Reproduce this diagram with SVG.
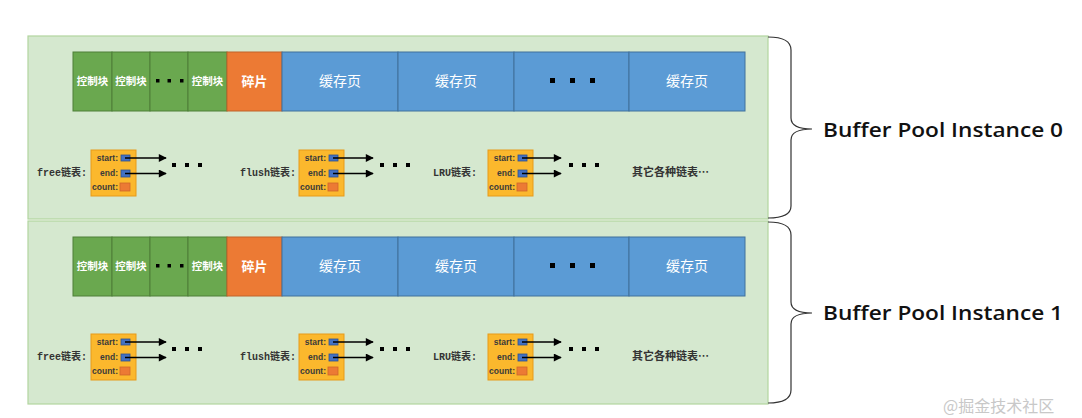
<svg xmlns="http://www.w3.org/2000/svg" width="1082" height="418" viewBox="0 0 1082 418">
<defs>
<style>
.panel{fill:#d5e8cf;stroke:#b2d59f;stroke-width:1.2}
.g{fill:#6aa84f;stroke:#4e7f38;stroke-width:1}
.o{fill:#ec7a34;stroke:#c0622a;stroke-width:1}
.b{fill:#5b9bd5;stroke:#41719c;stroke-width:1}
.dot{fill:#000}
.ct{font-family:"Noto Sans CJK SC",sans-serif;font-weight:bold;font-size:10.5px;fill:#fff;text-anchor:middle}
.ft{font-family:"Noto Sans CJK SC",sans-serif;font-weight:bold;font-size:13px;fill:#fff;text-anchor:middle}
.bt{font-family:"Noto Sans CJK SC",sans-serif;font-size:14px;fill:#fff;text-anchor:middle}
.yb{fill:#fbb82d;stroke:#e79a1a;stroke-width:1}
.sb{fill:#4472c4;stroke:#2f528f;stroke-width:0.8}
.cb{fill:#ec7a34;stroke:#d0672a;stroke-width:0.8}
.st{font-family:"Liberation Sans",sans-serif;font-weight:bold;font-size:8.5px;fill:#3a3a3a;text-anchor:end}
.lt{font-family:"Liberation Mono","Noto Sans CJK SC",monospace;font-weight:bold;font-size:10px;fill:#333}
.ot{font-family:"Noto Sans CJK SC",sans-serif;font-weight:bold;font-size:11px;fill:#333}
.ar{stroke:#000;stroke-width:1.6;fill:none;marker-end:url(#ah)}
.br{stroke:#333;stroke-width:1.2;fill:none}
.it{font-family:"Open Sans","Liberation Sans",sans-serif;font-weight:600;font-size:20px;fill:#111}
</style>
<marker id="ah" viewBox="0 0 10 10" refX="9" refY="5" markerWidth="9" markerHeight="8" markerUnits="userSpaceOnUse" orient="auto">
<path d="M0,0 L10,5 L0,10 z" fill="#000"/>
</marker>
<g id="row">
<rect class="g" x="73" y="52" width="39" height="59"/>
<rect class="g" x="112" y="52" width="38" height="59"/>
<rect class="g" x="150" y="52" width="38" height="59"/>
<rect class="g" x="188" y="52" width="39" height="59"/>
<rect class="o" x="227" y="52" width="55" height="59"/>
<rect class="b" x="282" y="52" width="116" height="59"/>
<rect class="b" x="398" y="52" width="116" height="59"/>
<rect class="b" x="514" y="52" width="115" height="59"/>
<rect class="b" x="629" y="52" width="116" height="59"/>
<text class="ct" x="92.5" y="85">控制块</text>
<text class="ct" x="131" y="85">控制块</text>
<rect class="dot" x="156" y="79" width="3.5" height="3.5"/>
<rect class="dot" x="167.5" y="79" width="3.5" height="3.5"/>
<rect class="dot" x="180" y="79" width="3.5" height="3.5"/>
<text class="ct" x="207.5" y="85">控制块</text>
<text class="ft" x="254.5" y="86">碎片</text>
<text class="bt" x="340" y="86">缓存页</text>
<text class="bt" x="456" y="86">缓存页</text>
<rect class="dot" x="550" y="78" width="5" height="5"/>
<rect class="dot" x="570" y="78" width="5" height="5"/>
<rect class="dot" x="590" y="78" width="5" height="5"/>
<text class="bt" x="687" y="86">缓存页</text>
</g>
<g id="lst">
<rect class="yb" x="0" y="0" width="45" height="46"/>
<text class="st" x="27" y="11">start:</text>
<text class="st" x="27" y="26">end:</text>
<text class="st" x="27" y="40">count:</text>
<rect class="sb" x="30" y="5" width="9" height="6"/>
<rect class="sb" x="30" y="20" width="9" height="7"/>
<rect class="cb" x="29" y="33" width="10" height="8"/>
<rect class="dot" x="81" y="13" width="4" height="4"/>
<rect class="dot" x="94" y="13" width="4" height="4"/>
<rect class="dot" x="107" y="13" width="4" height="4"/>
</g>
</defs>

<g id="instance0">
<rect class="panel" x="28" y="36" width="740" height="183"/>
<use href="#row"/>
<g id="free0"><use href="#lst" x="91" y="150"/><text class="lt" x="37" y="176">free链表:</text></g>
<g id="flush0"><use href="#lst" x="299" y="150"/><text class="lt" x="240" y="176">flush链表:</text></g>
<g id="lru0"><use href="#lst" x="488" y="150"/><text class="lt" x="433" y="176">LRU链表:</text></g>
<text class="ot" x="632" y="176">其它各种链表…</text>
</g>

<g id="instance1">
<rect class="panel" x="28" y="221" width="740" height="183"/>
<use href="#row" y="185"/>
<g id="free1"><use href="#lst" x="91" y="334"/><text class="lt" x="37" y="360">free链表:</text></g>
<g id="flush1"><use href="#lst" x="299" y="334"/><text class="lt" x="240" y="360">flush链表:</text></g>
<g id="lru1"><use href="#lst" x="488" y="334"/><text class="lt" x="433" y="360">LRU链表:</text></g>
<text class="ot" x="632" y="360">其它各种链表…</text>
</g>

<g id="connectors">
<line class="ar" x1="125" y1="158" x2="166" y2="158"/>
<line class="ar" x1="125" y1="173.5" x2="166" y2="173.5"/>
<line class="ar" x1="333" y1="158" x2="373" y2="158"/>
<line class="ar" x1="333" y1="173.5" x2="373" y2="173.5"/>
<line class="ar" x1="522" y1="158" x2="561" y2="158"/>
<line class="ar" x1="522" y1="173.5" x2="561" y2="173.5"/>
<line class="ar" x1="125" y1="342" x2="166" y2="342"/>
<line class="ar" x1="125" y1="357.5" x2="166" y2="357.5"/>
<line class="ar" x1="333" y1="342" x2="373" y2="342"/>
<line class="ar" x1="333" y1="357.5" x2="373" y2="357.5"/>
<line class="ar" x1="522" y1="342" x2="561" y2="342"/>
<line class="ar" x1="522" y1="357.5" x2="561" y2="357.5"/>
</g>

<g id="brace0">
<path class="br" d="M768,37 Q791,37 791,50 L791,118 Q791,129 812,129 Q791,129 791,140 L791,206 Q791,218 768,218"/>
<text class="it" x="823" y="137" textLength="240" lengthAdjust="spacingAndGlyphs">Buffer Pool Instance 0</text>
</g>
<g id="brace1">
<path class="br" d="M768,222 Q791,222 791,235 L791,302 Q791,313 812,313 Q791,313 791,324 L791,390 Q791,403 768,403"/>
<text class="it" x="823" y="320" textLength="240" lengthAdjust="spacingAndGlyphs">Buffer Pool Instance 1</text>
</g>
<text x="943" y="412" font-family="Noto Sans CJK SC, sans-serif" font-size="16" fill="#c8c8c8">@掘金技术社区</text>
</svg>
